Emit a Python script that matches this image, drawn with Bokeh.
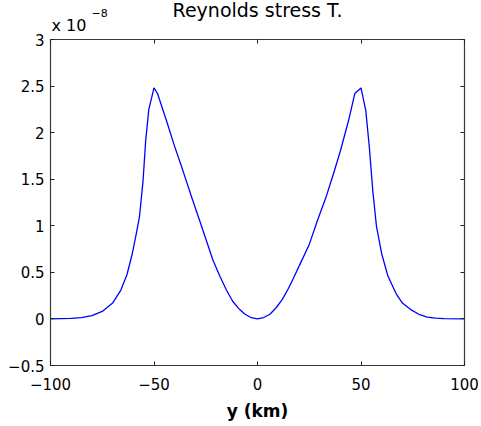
from bokeh.plotting import figure
from bokeh.models import LinearAxis, Title, FixedTicker, Range1d
from bokeh.embed import file_html
from bokeh.resources import INLINE

# Data (stress in units of 1e-8)
y_km = [-100, -90, -85, -80, -75, -70, -66, -63, -60.5, -58.5,
        -57, -55.3, -54, -52.5, -50, -48.3, -44, -40, -36, -32,
        -28, -25, -21.5, -18, -15, -12, -9, -6, -3, 0,
        3, 6, 9, 12, 15, 17, 21, 25, 29, 33,
        37, 40, 44, 47, 50, 52.3, 54, 55.8, 57.5, 60,
        63, 67, 70, 74, 78, 82, 86, 90, 100]
stress_e8 = [0, 0.005, 0.015, 0.035, 0.08, 0.17, 0.31, 0.48, 0.70, 0.92,
             1.10, 1.48, 1.92, 2.25, 2.48, 2.42, 2.13, 1.85, 1.59, 1.32,
             1.06, 0.86, 0.63, 0.45, 0.31, 0.19, 0.11, 0.05, 0.013, 0,
             0.015, 0.05, 0.12, 0.21, 0.33, 0.42, 0.61, 0.80, 1.06, 1.30,
             1.58, 1.80, 2.13, 2.42, 2.48, 2.24, 1.85, 1.35, 0.99, 0.70,
             0.46, 0.27, 0.17, 0.10, 0.05, 0.02, 0.008, 0.003, 0]

x_ticks = [-100, -50, 0, 50, 100]
x_tick_labels = ["\u2212100", "\u221250", "0", "50", "100"]
y_ticks = [-0.5, 0, 0.5, 1, 1.5, 2, 2.5, 3]
y_tick_labels = ["\u22120.5", "0", "0.5", "1", "1.5", "2", "2.5", "3"]

title_text = "Reynolds stress T."
xlabel_text = "y (km)"
scale_text = "x 10"
scale_exp = "\u22128"

FONT = "DejaVu Sans"
FW, FH = 414, 326
BL, BT = 50, 39

p = figure(frame_width=FW, frame_height=FH, output_backend="svg", toolbar_location=None,
           x_range=Range1d(-100, 100), y_range=Range1d(-0.5, 3),
           min_border_left=BL, min_border_right=15, min_border_top=BT, min_border_bottom=58,
           x_axis_location=None, y_axis_location=None, title=None)
p.background_fill_color = "white"
p.border_fill_color = "white"
p.outline_line_color = "#3a3a3a"
p.outline_line_width = 1.2
p.xgrid.visible = False
p.ygrid.visible = False

def style_axis(ax, ticks, labels=None):
    ax.ticker = FixedTicker(ticks=ticks)
    ax.axis_line_color = None
    ax.major_tick_in = 4
    ax.major_tick_out = 0
    ax.minor_tick_line_color = None
    ax.major_tick_line_color = "#222222"
    ax.major_tick_line_width = 1
    ax.major_label_text_font = FONT
    ax.major_label_text_color = "black"
    if labels is None:
        ax.major_label_overrides = {t: "" for t in ticks}
        ax.major_label_text_font_size = "1px"
        ax.major_label_standoff = 0
    else:
        ax.major_label_overrides = {t: l for t, l in zip(ticks, labels)}
        ax.major_label_text_font_size = "15px"

xb = LinearAxis()
style_axis(xb, x_ticks, x_tick_labels)
xb.major_label_standoff = 12
xb.axis_label = xlabel_text
xb.axis_label_text_font = FONT
xb.axis_label_text_font_size = "17px"
xb.axis_label_text_font_style = "bold"
xb.axis_label_text_color = "black"
xb.axis_label_standoff = 8
p.add_layout(xb, "below")

yl = LinearAxis()
style_axis(yl, y_ticks, y_tick_labels)
yl.major_label_standoff = 6
p.add_layout(yl, "left")

xt = LinearAxis()
style_axis(xt, x_ticks)
p.add_layout(xt, "above")

yr = LinearAxis()
style_axis(yr, y_ticks)
p.add_layout(yr, "right")

p.line(y_km, stress_e8, line_color="#0000ff", line_width=1.3)

scale_title = Title(text=scale_text, align="left", text_font=FONT, text_font_size="16px",
                    text_font_style="normal", text_color="black", standoff=10, offset=1)
p.add_layout(scale_title, "above")
exp_title = Title(text=scale_exp, align="left", text_font=FONT, text_font_size="11px",
                  text_font_style="normal", text_color="black", standoff=-16, offset=41)
p.add_layout(exp_title, "above")
main_title = Title(text=title_text, align="center", text_font=FONT, text_font_size="19px",
                   text_font_style="normal", text_color="black", standoff=-25)
p.add_layout(main_title, "above")

open("out.html", "w").write(file_html(p, INLINE))
